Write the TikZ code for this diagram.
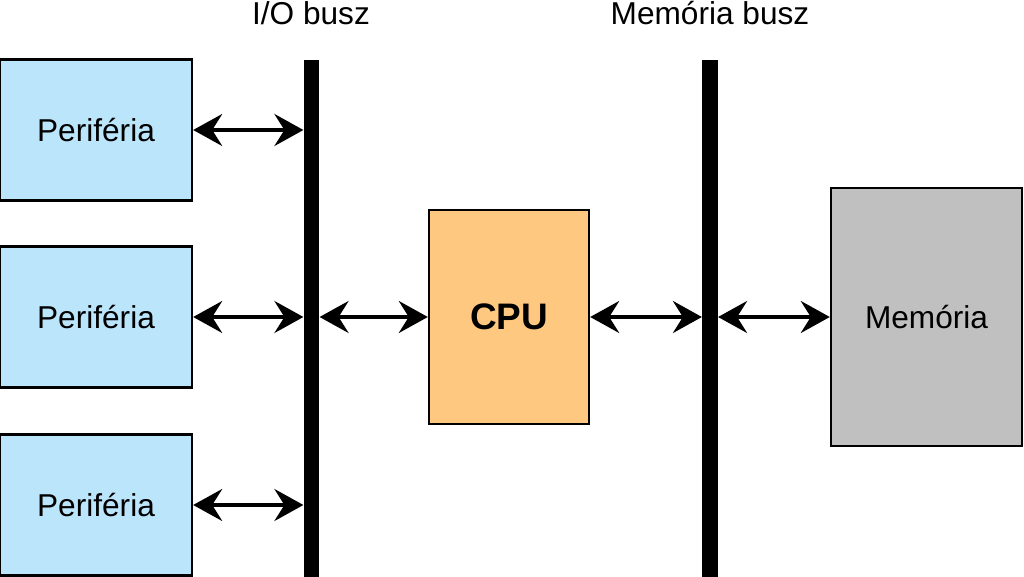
\documentclass[tikz,border=0pt]{standalone}
\usepackage{fontspec}
\setmainfont{Liberation Sans}
\usetikzlibrary{arrows.meta, positioning}

\tikzset{
  perbox/.style={draw, line width=1.4pt, fill=perblue, minimum width=3.84cm, minimum height=2.82cm, inner sep=0pt, font=\fontsize{18}{21}\selectfont},
  busbar/.style={fill=black, minimum width=0.31cm, minimum height=10.34cm, inner sep=0pt},
  link/.style={line width=1.9pt, {Stealth[length=0.58cm, width=0.64cm, inset=0.2cm]}-{Stealth[length=0.58cm, width=0.64cm, inset=0.2cm]}}
}
\definecolor{perblue}{RGB}{187,229,251}
\definecolor{cpuorange}{RGB}{255,200,128}
\definecolor{memgray}{RGB}{192,192,192}

\begin{document}
\begin{tikzpicture}[x=0.02cm, y=-0.02cm]
\useasboundingbox (0,0) rectangle (1024,577);

% buszok
\node[busbar, anchor=north] (iobus) at (311.5,60) {};
\node[busbar, anchor=north] (membus) at (710,60) {};
\node[font=\fontsize{18}{21}\selectfont] (iolabel) at (311,13) {I/O busz};
\node[font=\fontsize{18}{21}\selectfont] (memlabel) at (710,13) {Memória busz};

% periferiak
\node[perbox] (per1) at (96,130) {Periféria};
\node[perbox] (per2) at (96,317) {Periféria};
\node[perbox] (per3) at (96,505) {Periféria};

\node[perbox, fill=cpuorange, minimum width=3.2cm, minimum height=4.28cm, font=\fontsize{21}{24}\selectfont\bfseries] (cpu) at (509,317) {CPU};
\node[perbox, fill=memgray, minimum width=3.82cm, minimum height=5.16cm] (mem) at (926.5,317) {Memória};

\draw[link] (per1.east) -- (per1.east -| iobus.west);
\draw[link] (per2.east) -- (per2.east -| iobus.west);
\draw[link] (per3.east) -- (per3.east -| iobus.west);
\draw[link] (cpu.west -| iobus.east) -- (cpu.west);
\draw[link] (cpu.east) -- (cpu.east -| membus.west);
\draw[link] (mem.west -| membus.east) -- (mem.west);

\end{tikzpicture}
\end{document}
